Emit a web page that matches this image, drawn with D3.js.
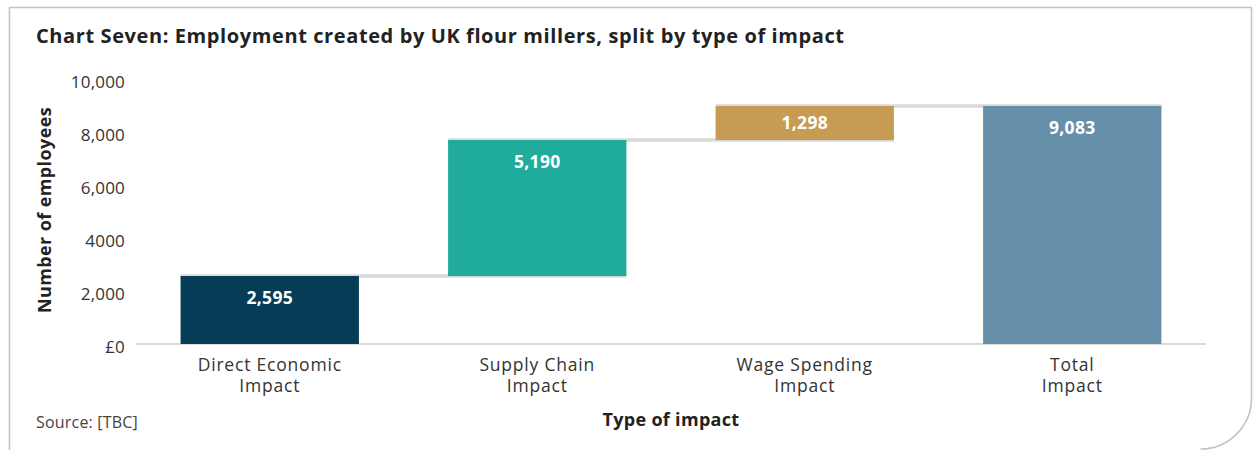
<!DOCTYPE html>
<html>
<head>
<meta charset="utf-8">
<script src="https://cdn.jsdelivr.net/npm/d3@7"></script>
<style>
  html, body { margin: 0; padding: 0; background: #fff; }
  svg { display: block; font-family: "Open Sans", "DejaVu Sans", sans-serif; }
</style>
</head>
<body>
<svg id="chart" width="1254" height="450"></svg>
<script>
// Employment by type of impact (waterfall)
const categories = ["Direct Economic Impact", "Supply Chain Impact", "Wage Spending Impact", "Total Impact"];
const categoryLines = [["Direct Economic", "Impact"], ["Supply Chain", "Impact"], ["Wage Spending", "Impact"], ["Total", "Impact"]];
const values = [2595, 5190, 1298, 9083];
const isTotal = [false, false, false, true];
const barColors = ["#063c56", "#1fac9c", "#c89b55", "#6690aa"];
const tickValues = [0, 2000, 4000, 6000, 8000, 10000];
const tickLabels = ["£0", "2,000", "4000", "6,000", "8,000", "10,000"];

const svg = d3.select("#chart");

// card outline with a rounded lower-right corner
svg.append("path")
  .attr("d", "M9.5,452 V7.5 H1251.5 V398 A51,51 0 0 1 1200.5,449")
  .attr("fill", "none")
  .attr("stroke", "#c4c4c4")
  .attr("stroke-width", 1.6);

svg.append("text")
  .attr("x", 36).attr("y", 43)
  .attr("font-size", 20).attr("font-weight", 700).attr("fill", "#222")
  .attr("letter-spacing", 0.6)
  .text("Chart Seven: Employment created by UK flour millers, split by type of impact");

const x = d3.scaleBand()
  .domain(categories)
  .range([136, 1206])
  .paddingInner(1 / 3)
  .paddingOuter(1 / 6);

const y = d3.scaleLinear().domain([0, 10000]).range([344, 82]);

// running start/end of each step
let running = 0;
const steps = categories.map((c, i) => {
  let start, end;
  if (isTotal[i]) { start = 0; end = values[i]; running = values[i]; }
  else { start = running; end = running + values[i]; running = end; }
  return { cat: c, i, start, end, value: values[i] };
});

// y axis labels
const yAxis = d3.axisLeft(y)
  .tickValues(tickValues)
  .tickFormat((d, i) => tickLabels[i])
  .tickSize(0)
  .tickPadding(0);
const gy = svg.append("g").attr("transform", "translate(125,0)").call(yAxis);
gy.select(".domain").remove();
gy.selectAll("text")
  .attr("font-size", 17).attr("fill", "#333")
  .attr("font-family", "'Open Sans', sans-serif")
  .attr("letter-spacing", 0.2)
  .attr("dy", (d) => (0.32 + 0.3 * (1 - d / 10000) * 0.6) + "em");

// baseline
svg.append("line")
  .attr("x1", x.range()[0]).attr("x2", x.range()[1])
  .attr("y1", y(0)).attr("y2", y(0))
  .attr("stroke", "#d9d9d9").attr("stroke-width", 2);

// connectors between steps, behind the bars
const conn = svg.append("g");
steps.slice(0, -1).forEach((s, i) => {
  const next = steps[i + 1];
  conn.append("line")
    .attr("x1", x(s.cat)).attr("x2", x(next.cat) + x.bandwidth())
    .attr("y1", y(s.end)).attr("y2", y(s.end))
    .attr("stroke", "#d9d9d9").attr("stroke-width", 3.4);
});

// bars
svg.append("g").selectAll("rect")
  .data(steps).join("rect")
  .attr("x", (d) => x(d.cat))
  .attr("width", x.bandwidth())
  .attr("y", (d) => y(Math.max(d.start, d.end)))
  .attr("height", (d) => Math.abs(y(d.start) - y(d.end)))
  .attr("fill", (d) => barColors[d.i]);

// value labels near the top of each bar
const fmt = d3.format(",");
svg.append("g").selectAll("text")
  .data(steps).join("text")
  .attr("x", (d) => x(d.cat) + x.bandwidth() / 2)
  .attr("y", (d) => {
    const top = y(d.end), bottom = y(d.start);
    return Math.min(top + 22, (top + bottom) / 2);
  })
  .attr("dy", "0.36em")
  .attr("text-anchor", "middle")
  .attr("font-size", 17.5).attr("font-weight", 700).attr("fill", "#fff")
  .attr("letter-spacing", 0.3)
  .text((d) => fmt(d.value));

// category labels, two lines each
const xl = svg.append("g");
categories.forEach((c, i) => {
  categoryLines[i].forEach((line, j) => {
    xl.append("text")
      .attr("x", x(c) + x.bandwidth() / 2)
      .attr("y", 371 + j * 21)
      .attr("text-anchor", "middle")
      .attr("font-size", 17.5).attr("fill", "#333")
      .attr("letter-spacing", 0.8)
      .text(line);
  });
});

// axis titles
svg.append("text")
  .attr("x", (x.range()[0] + x.range()[1]) / 2).attr("y", 426)
  .attr("text-anchor", "middle")
  .attr("font-size", 18).attr("font-weight", 700).attr("fill", "#222")
  .attr("letter-spacing", 0.3)
  .text("Type of impact");

svg.append("text")
  .attr("transform", "translate(51," + ((y(0) + y(10000)) / 2 - 3) + ") rotate(-90)")
  .attr("text-anchor", "middle")
  .attr("font-size", 18).attr("font-weight", 700).attr("fill", "#222")
  .attr("letter-spacing", 0.4)
  .text("Number of employees");

svg.append("text")
  .attr("x", 36).attr("y", 428)
  .attr("font-size", 16).attr("fill", "#444")
  .attr("letter-spacing", 0.2)
  .text("Source: [TBC]");
</script>
</body>
</html>
